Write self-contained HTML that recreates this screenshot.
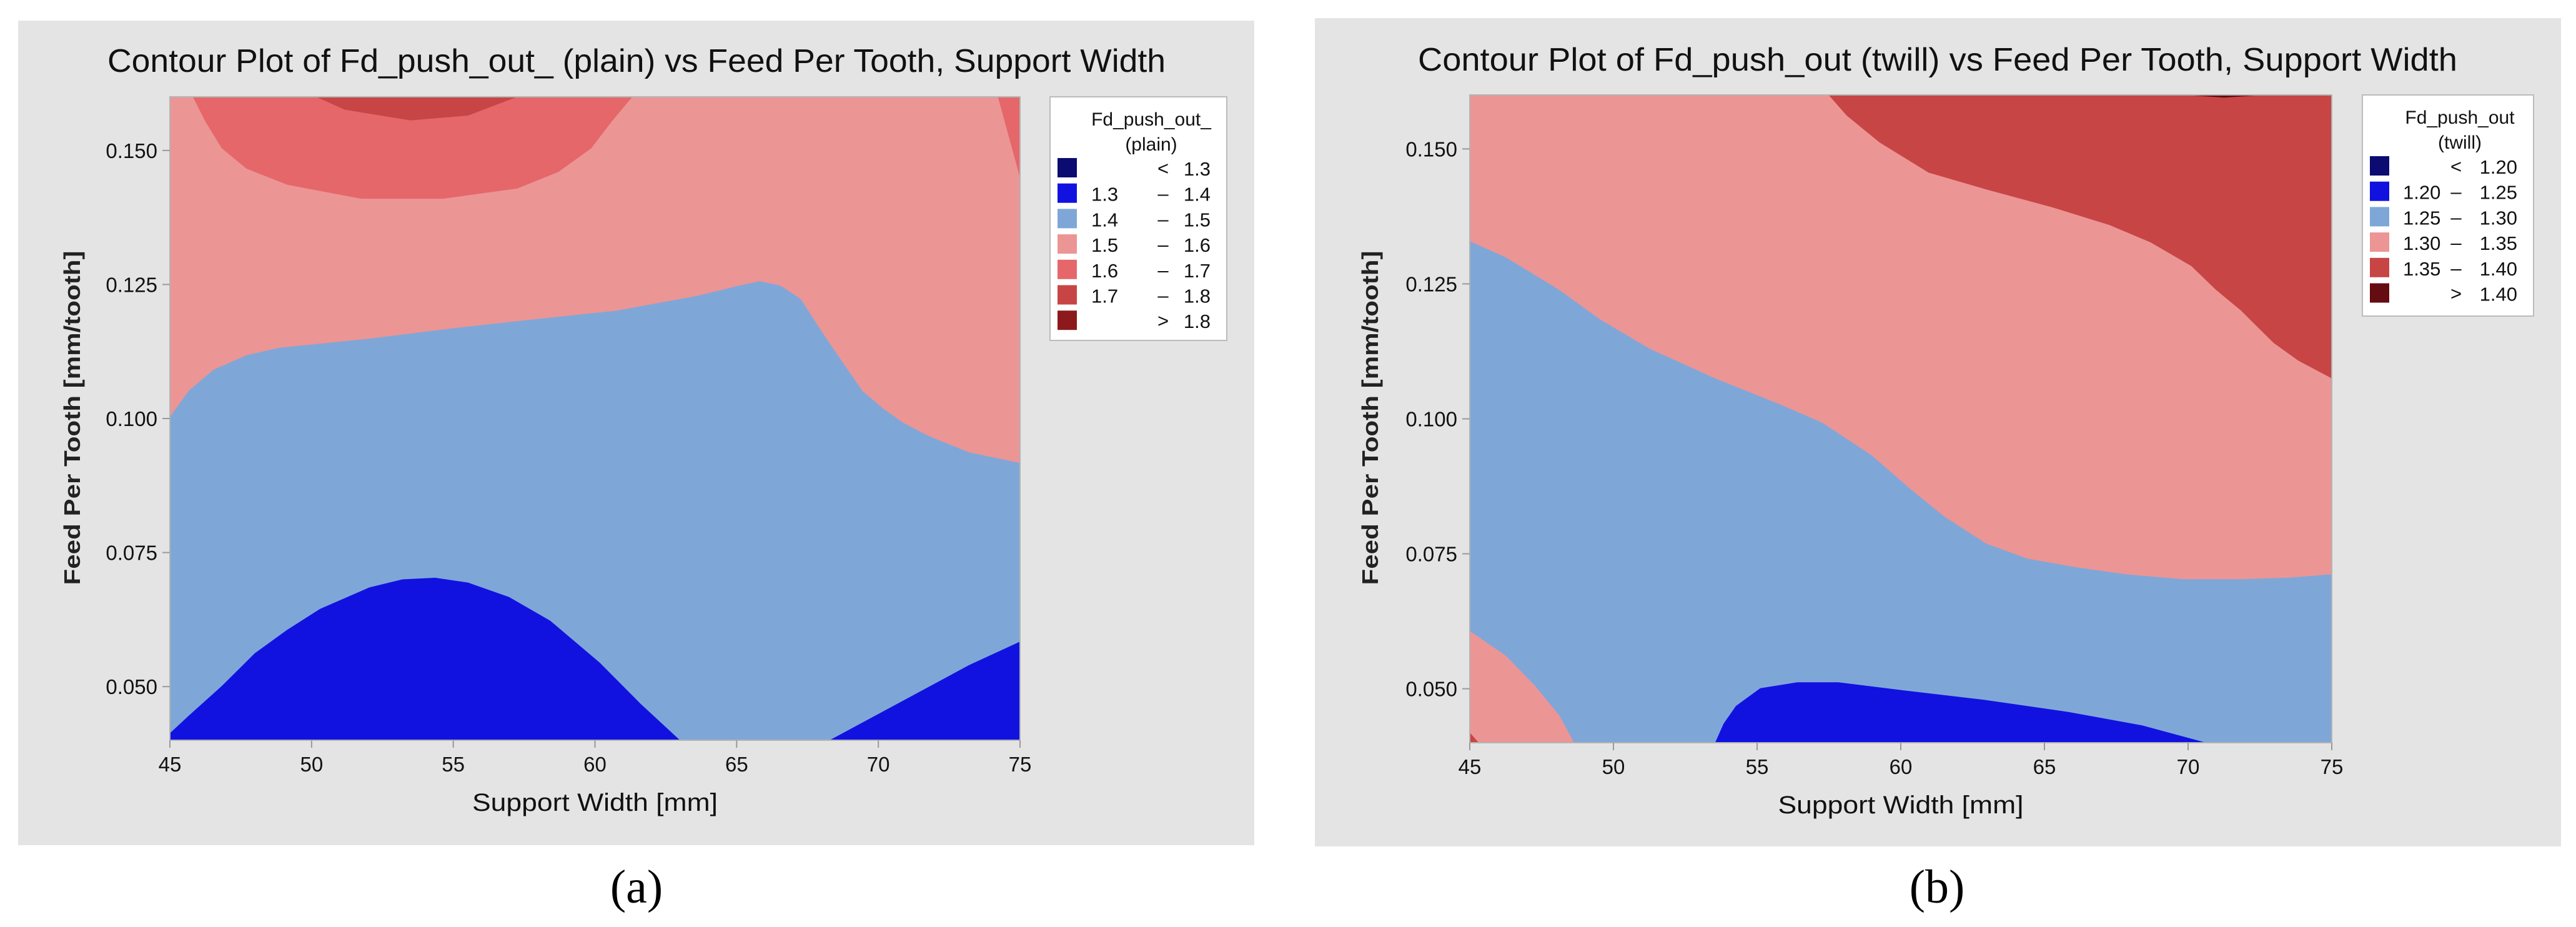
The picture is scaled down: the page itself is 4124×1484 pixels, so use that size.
<!DOCTYPE html>
<html><head><meta charset="utf-8"><style>
html,body{margin:0;padding:0;background:#fff;width:4124px;height:1484px;overflow:hidden}
svg{display:block;font-family:"Liberation Sans",sans-serif}
</style></head><body>
<svg id="fig" width="4124" height="1484" viewBox="0 0 4124 1484" xmlns="http://www.w3.org/2000/svg">
<g id="root"></g>
</svg>
<script>
// ---- shared axis data ----
const xTicks = [45, 50, 55, 60, 65, 70, 75];
const yTicks = [0.050, 0.075, 0.100, 0.125, 0.150];
const yTickLabels = ["0.050", "0.075", "0.100", "0.125", "0.150"];

// ---- panel A (plain) data: contour region boundaries in data units [width, feed] ----
const plainBands = ["< 1.3", "1.3 – 1.4", "1.4 – 1.5", "1.5 – 1.6", "1.6 – 1.7", "1.7 – 1.8", "> 1.8"];
const plainLow = ["", "1.3", "1.4", "1.5", "1.6", "1.7", ""];
const plainHigh = ["1.3", "1.4", "1.5", "1.6", "1.7", "1.8", "1.8"];
const plainSym = ["<", "–", "–", "–", "–", "–", ">"];
const plainRegion15 = [[45,0.1003],[45.67,0.1052],[46.54,0.1091],[47.70,0.1118],[48.86,0.1132],[50.01,0.1138],[52.04,0.1149],[54.94,0.1168],[57.84,0.1185],[60.74,0.1201],[63.64,0.1229],[65.09,0.1248],[65.81,0.1256],[66.54,0.1248],[67.26,0.1223],[67.99,0.1163],[68.57,0.1118],[69.43,0.1052],[70.16,0.1019],[70.88,0.0992],[71.75,0.0968],[73.20,0.0937],[75,0.0917],[75,0.16],[45,0.16]];
const plainRegion16 = [[45.81,0.16],[46.25,0.1554],[46.83,0.1504],[47.70,0.1466],[49.14,0.1436],[51.75,0.1410],[54.65,0.1410],[57.26,0.1429],[58.71,0.1460],[59.87,0.1504],[60.59,0.1554],[61.32,0.16]];
const plainRegion16b = [[74.22,0.16],[75,0.1449],[75,0.16]];
const plainRegion17 = [[50.16,0.16],[51.17,0.1576],[53.49,0.1556],[55.52,0.1565],[57.26,0.16]];
const plainRegion13 = [[45,0.0413],[45.67,0.0446],[46.83,0.0501],[47.99,0.0562],[49.14,0.0606],[50.30,0.0645],[52.04,0.0685],[53.20,0.0700],[54.36,0.0703],[55.52,0.0694],[56.97,0.0667],[58.42,0.0623],[60.16,0.0545],[61.61,0.0468],[63.0,0.04],[45,0.04]];
const plainRegion13b = [[68.28,0.04],[70.88,0.0474],[73.20,0.0540],[75,0.0584],[75,0.04]];

// ---- panel B (twill) data ----
const twillLow = ["", "1.20", "1.25", "1.30", "1.35", ""];
const twillHigh = ["1.20", "1.25", "1.30", "1.35", "1.40", "1.40"];
const twillSym = ["<", "–", "–", "–", "–", ">"];
const twillRegion130 = [[45,0.1329],[46.26,0.1299],[48.11,0.1239],[49.54,0.1184],[51.26,0.1130],[53.54,0.1075],[55.83,0.1026],[57.26,0.0993],[58.97,0.0933],[60.40,0.0867],[61.54,0.0818],[62.97,0.0769],[64.40,0.0741],[66.11,0.0725],[67.83,0.0712],[69.83,0.0703],[71.83,0.0703],[73.54,0.0706],[75,0.0712],[75,0.16],[45,0.16]];
const twillRegion135 = [[57.49,0.16],[58.11,0.1562],[59.26,0.1512],[60.97,0.1456],[62.97,0.1425],[65.26,0.1392],[67.26,0.1359],[68.69,0.1327],[70.11,0.1283],[70.97,0.1239],[71.83,0.1201],[72.97,0.1141],[73.83,0.1108],[75,0.1075],[75,0.16]];
const twillRegion140 = [[69.83,0.16],[71.26,0.1595],[72.69,0.16]];
const twillRegion130b = [[45,0.0607],[46.26,0.0561],[47.26,0.0506],[48.11,0.0451],[48.63,0.04],[45,0.04]];
const twillRegion135b = [[45,0.0419],[45.31,0.04],[45,0.04]];
const twillRegion120 = [[53.54,0.04],[53.83,0.0435],[54.26,0.0468],[55.11,0.0501],[56.40,0.0512],[57.83,0.0512],[60.11,0.0497],[62.97,0.0479],[65.83,0.0457],[68.40,0.0432],[70.63,0.04]];

const NS = "http://www.w3.org/2000/svg";
const root = document.getElementById('root');
function mk(tag, attrs, parent, txt){
  const e = document.createElementNS(NS, tag);
  for (const k in attrs) e.setAttribute(k, attrs[k]);
  if (txt !== undefined) e.textContent = txt;
  (parent || root).appendChild(e);
  return e;
}
const C = {dk:"#0b0b72", bl:"#1212e0", lb:"#7ea7d8", pk:"#ec9595", rd:"#e5676a", r2:"#c84545", r3:"#8c1a1c", r3t:"#650b12"};

function panel(cfg){
  const g = mk('g', {});
  
  
  const bg = mk('rect', {x:cfg.px, y:cfg.py, width:cfg.pw, height:cfg.ph, fill:"#e4e4e4"}, g);
  
  
  const t = mk('text', {x:cfg.tx, y:cfg.ty, 'font-size':52, 'text-anchor':'middle', fill:'#111', textLength:cfg.tl, lengthAdjust:'spacingAndGlyphs'}, g, cfg.title);
  
  
  const L=cfg.l, R=cfg.r, T=cfg.t, B=cfg.b;
  const sx = v => L + (v-45)/30*(R-L);
  const sy = v => B - (v-0.04)/0.12*(B-T);
  const plot = mk('g', {}, g);
  
  
  const base = mk('rect', {x:L, y:T, width:R-L, height:B-T, fill:C.lb}, plot);
  
  
  cfg.regions.forEach(rg => {
    const p = mk('polygon', {points: rg.pts.map(q => sx(q[0]).toFixed(1)+','+sy(q[1]).toFixed(1)).join(' '), fill: rg.fill}, plot);
    
    
  });
  const fr = mk('rect', {x:L, y:T, width:R-L, height:B-T, fill:'none', stroke:'#b4b4b4', 'stroke-width':2}, g);
  
  
  xTicks.forEach(v => {
    const tk = mk('line', {x1:sx(v), x2:sx(v), y1:B, y2:B+12, stroke:'#999', 'stroke-width':2}, g);
    
    
    const lb = mk('text', {x:sx(v), y:B+50, 'font-size':33, 'text-anchor':'middle', fill:'#111'}, g, String(v));
    
    
  });
  yTicks.forEach((v,i) => {
    const tk = mk('line', {x1:L-12, x2:L, y1:sy(v), y2:sy(v), stroke:'#999', 'stroke-width':2}, g);
    
    
    const lb = mk('text', {x:L-20, y:sy(v)+12, 'font-size':33, 'text-anchor':'end', fill:'#111'}, g, yTickLabels[i]);
    
    
  });
  const xl = mk('text', {x:(L+R)/2, y:cfg.xly, 'font-size':40, 'text-anchor':'middle', fill:'#111', textLength:393, lengthAdjust:'spacingAndGlyphs'}, g, 'Support Width [mm]');
  
  
  const yl = mk('text', {x:0, y:0, 'font-size':36, 'font-weight':'bold', 'text-anchor':'middle', fill:'#222', textLength:535, lengthAdjust:'spacingAndGlyphs', transform:'translate('+cfg.ylx+',669) rotate(-90)'}, g, 'Feed Per Tooth  [mm/tooth]');
  
  
  // legend
  const lg = mk('g', {}, g);
  
  
  const lr = mk('rect', {x:cfg.lgx, y:cfg.lgy, width:cfg.lgw, height:cfg.lgh, fill:'#fff', stroke:'#bbb', 'stroke-width':2}, lg);
  
  
  const lt1 = mk('text', {x:cfg.lgtx, y:cfg.lgy+46, 'font-size':30, 'text-anchor':'middle', fill:'#111'}, lg, cfg.lgt1);
  
  
  const lt2 = mk('text', {x:cfg.lgtx, y:cfg.lgy+86, 'font-size':30, 'text-anchor':'middle', fill:'#111'}, lg, cfg.lgt2);
  
  
  cfg.low.forEach((lo,i) => {
    const y0 = cfg.lgy + 98 + i*40.7;
    const e = mk('g', {}, lg);
    
    
    const sw = mk('rect', {x:cfg.swx, y:y0, width:31, height:31, fill:cfg.colors[i]}, e);
    
    
    if (lo) { const a = mk('text', {x:cfg.lox, y:y0+28, 'font-size':31, fill:'#111'}, e, lo);
        }
    const s = mk('text', {x:cfg.symx, y:y0+27, 'font-size':31, 'text-anchor':'middle', fill:'#111'}, e, cfg.sym[i]);
    
    
    const b = mk('text', {x:cfg.hix, y:y0+28, 'font-size':31, 'text-anchor':'end', fill:'#111'}, e, cfg.high[i]);
    
    
  });
  const cap = mk('text', {x:cfg.capx, y:1445, 'font-size':76, 'text-anchor':'middle', fill:'#000', 'font-family':'"Liberation Serif",serif'}, root, cfg.cap);
  
  
}

panel({name:'panel-a-plain', px:29, py:33, pw:1979, ph:1320, tx:1019, ty:115, tl:1694,
  title:'Contour Plot of Fd_push_out_ (plain) vs Feed Per Tooth, Support Width',
  l:272, r:1633, t:155, b:1185, xly:1298, ylx:128,
  regions:[
    {name:'region-1.5-1.6', pts:plainRegion15, fill:C.pk},
    {name:'region-1.6-1.7', pts:plainRegion16, fill:C.rd},
    {name:'region-1.6-1.7-corner', pts:plainRegion16b, fill:C.rd},
    {name:'region-1.7-1.8', pts:plainRegion17, fill:C.r2},
    {name:'region-1.3-1.4', pts:plainRegion13, fill:C.bl},
    {name:'region-1.3-1.4-right', pts:plainRegion13b, fill:C.bl}],
  lgx:1681, lgy:155, lgw:283, lgh:390, lgtx:1843, lgt1:'Fd_push_out_', lgt2:'(plain)',
  swx:1693, lox:1747, symx:1862, hix:1938,
  low:plainLow, high:plainHigh, sym:plainSym,
  colors:[C.dk,C.bl,C.lb,C.pk,C.rd,C.r2,C.r3], capx:1019, cap:'(a)'});

panel({name:'panel-b-twill', px:2105, py:29, pw:1995, ph:1326, tx:3102, ty:113, tl:1664,
  title:'Contour Plot of Fd_push_out (twill) vs Feed Per Tooth, Support Width',
  l:2353, r:3733, t:152, b:1189, xly:1302, ylx:2206,
  regions:[
    {name:'region-1.30-1.35', pts:twillRegion130, fill:C.pk},
    {name:'region-1.35-1.40', pts:twillRegion135, fill:C.r2},
    {name:'region-above-1.40', pts:twillRegion140, fill:C.r3t},
    {name:'region-1.30-1.35-corner', pts:twillRegion130b, fill:C.pk},
    {name:'region-1.35-1.40-corner', pts:twillRegion135b, fill:C.r2},
    {name:'region-1.20-1.25', pts:twillRegion120, fill:C.bl}],
  lgx:3782, lgy:152, lgw:274, lgh:354, lgtx:3938, lgt1:'Fd_push_out', lgt2:'(twill)',
  swx:3794, lox:3847, symx:3932, hix:4030,
  low:twillLow, high:twillHigh, sym:twillSym,
  colors:[C.dk,C.bl,C.lb,C.pk,C.r2,C.r3t], capx:3101, cap:'(b)'});
</script>
</body></html>
